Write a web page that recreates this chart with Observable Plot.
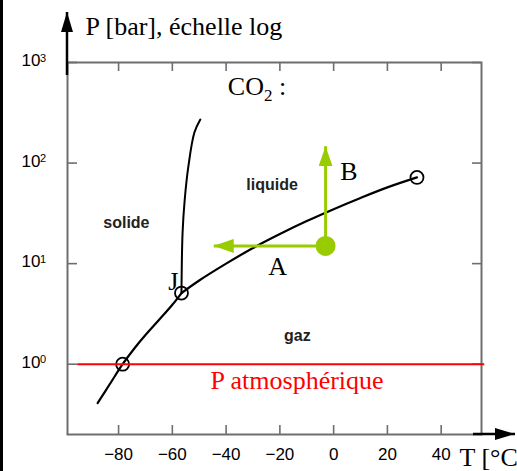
<!DOCTYPE html>
<html><head><meta charset="utf-8">
<script src="https://cdn.jsdelivr.net/npm/d3@7"></script>
<script src="https://cdn.jsdelivr.net/npm/@observablehq/plot@0.6"></script>
<style>
html,body{margin:0;padding:0;background:#fff;overflow:hidden;}
#edge{position:absolute;left:0;top:0;width:3px;height:471px;background:#000;}
#chart{position:absolute;left:0;top:0;}
</style>
</head><body><div id="chart"></div><div id="edge"></div>
<script>
// ---- data ----
const xTicks = [-80, -60, -40, -20, 0, 20, 40];
const yTicks = [1, 10, 100, 1000];
const yExponents = ["0", "1", "2", "3"];

// sublimation curve (solide / gaz)
const sublimationT = [-87.8, -83, -78.5, -74, -70, -65, -60, -56.6];
const sublimationP = [0.41, 0.65, 1, 1.45, 1.95, 2.75, 3.9, 5.1];
// melting curve (solide / liquide)
const meltingT = [-56.6, -56.2, -55.4, -54.05, -51.8, -49.6];
const meltingP = [5.1, 20.2, 43.2, 92, 201, 271];
// vaporisation curve (liquide / gaz)
const vaporT = [-56.6, -50, -40, -30, -20, -10, 0, 10, 20, 31];
const vaporP = [5.1, 6.8, 10, 14.3, 19.7, 26.5, 34.8, 45, 57.3, 72];
// marked points: sublimation at 1 bar, triple point J, critical point
const markT = [-78.5, -56.6, 31];
const markP = [1, 5.1, 72];

// atmospheric pressure line
const atmP = 1;
const atmT = [-95.2, 56.2];

// green state point and arrows A (cooling) / B (compression)
const stateT = -3;
const stateP = 15;
const arrowA_T = -44.6;
const arrowB_P = 147;

// labels
const phaseNames = ["liquide", "solide", "gaz"];
const phaseT = [-22.9, -77.1, -13.5];
const phaseP = [60.6, 25.3, 1.91];
const serifNames = ["CO₂ :", "A", "B", "J"];
const serifT = [-28.5, -20.8, 5.7, -59.6];
const serifP = [571, 9.33, 82.7, 6.65];
const atmLabel = "P atmosphérique";
const atmLabelT = -13.6;
const atmLabelP = 0.692;
const yTitle = "P [bar], échelle log";
const xTitle = "T [°C]";

// ---- build ----
const W = 517, H = 471, mL = 67, mR = 36, mT = 62, mB = 37;
const innerW = W - mL - mR, innerH = H - mT - mB;
const green = "#99cc00";
const frameGrey = "#6e6e6e";
const serif = "Liberation Serif";

const zip = (a, b) => a.map((v, i) => ({x: v, y: b[i]}));
const sublimation = zip(sublimationT, sublimationP);
const melting = zip(meltingT, meltingP);
const vapor = zip(vaporT, vaporP);
const marks = zip(markT, markP);
const phases = phaseNames.map((n, i) => ({n, x: phaseT[i], y: phaseP[i]}));
const serifs = serifNames.map((n, i) => ({n, x: serifT[i], y: serifP[i]}));
const arrows = [
  {x1: stateT, y1: stateP, x2: arrowA_T, y2: stateP},
  {x1: stateT, y1: stateP, x2: stateT, y2: arrowB_P}
];

const plot = Plot.plot({
  width: W, height: H,
  marginLeft: mL, marginRight: mR, marginTop: mT, marginBottom: mB,
  style: {fontFamily: "Liberation Sans", fontSize: "17px", color: "#000", background: "#fff", overflow: "visible"},
  x: {domain: [-99, 55], axis: null},
  y: {type: "log", domain: [0.2, 1000], axis: null},
  marks: [
    Plot.frame({stroke: frameGrey, strokeWidth: 2}),
    // inward ticks
    Plot.ruleX(xTicks, {x: d => d, insetTop: innerH - 9, stroke: frameGrey, strokeWidth: 1.6}),
    Plot.ruleX(xTicks, {x: d => d, insetBottom: innerH - 9, stroke: frameGrey, strokeWidth: 1.6}),
    Plot.ruleY(yTicks, {y: d => d, insetRight: innerW - 10, stroke: frameGrey, strokeWidth: 1.6}),
    Plot.ruleY(yTicks, {y: d => d, insetLeft: innerW - 9, stroke: frameGrey, strokeWidth: 1.6}),
    // x tick labels
    Plot.axisX(xTicks, {anchor: "bottom", tickSize: 0, tickPadding: 13, label: null, fontSize: 17, style: "letter-spacing:1.5px"}),
    // y tick labels 10^n
    Plot.text(yTicks, {y: d => d, frameAnchor: "left", text: () => "10", textAnchor: "end", dx: -27, dy: -2, fontSize: 17, style: "letter-spacing:1.5px"}),
    Plot.text(yTicks, {y: d => d, frameAnchor: "left", text: (d, i) => yExponents[i], textAnchor: "start", dx: -27.5, dy: -4.5, fontSize: 11}),
    // phase curves
    Plot.line(sublimation, {x: "x", y: "y", stroke: "#000", strokeWidth: 2.2, curve: "catmull-rom"}),
    Plot.line(melting, {x: "x", y: "y", stroke: "#000", strokeWidth: 2, curve: "catmull-rom"}),
    Plot.line(vapor, {x: "x", y: "y", stroke: "#000", strokeWidth: 2.2, curve: "catmull-rom"}),
    Plot.dot(marks, {x: "x", y: "y", r: 6.5, stroke: "#000", strokeWidth: 1.8, fill: "none"}),
    // atmospheric pressure
    Plot.ruleY([atmP], {y: d => d, x1: atmT[0], x2: atmT[1], stroke: "#ff0000", strokeWidth: 2}),
    // green arrows & state point
    Plot.link(arrows, {x1: "x1", y1: "y1", x2: "x2", y2: "y2", stroke: green, strokeWidth: 3}),
    Plot.dot([{x: stateT, y: stateP}], {x: "x", y: "y", r: 10, fill: green}),
    // labels
    Plot.text(phases, {x: "x", y: "y", text: "n", fontSize: 16, fontWeight: "bold", fill: "#222", style: "letter-spacing:1px"}),
    Plot.text(serifs, {x: "x", y: "y", text: "n", fontSize: 26, fontFamily: serif, fill: "#000"}),
    Plot.text([atmLabel], {x: () => atmLabelT, y: () => atmLabelP, text: d => d, fontSize: 26, fontFamily: serif, fill: "#ff0000"}),
    Plot.text([yTitle], {frameAnchor: "top-left", text: d => d, textAnchor: "start", lineAnchor: "bottom", dx: 18, dy: -28, fontSize: 26, fontFamily: serif, fill: "#000"}),
    Plot.text([xTitle], {frameAnchor: "bottom-right", text: d => d, textAnchor: "start", lineAnchor: "bottom", dx: -22, dy: 31, fontSize: 26, fontFamily: serif, fill: "#000"})
  ]
});

document.getElementById("chart").appendChild(plot);

// ---- post-processing: arrowheads, subscript ----
const svg = d3.select(plot);
const defs = svg.insert("defs", ":first-child");
function addMarker(id, color, len, wid) {
  defs.append("marker").attr("id", id)
    .attr("viewBox", `0 0 ${len} ${wid}`).attr("refX", len).attr("refY", wid / 2)
    .attr("markerWidth", len).attr("markerHeight", wid)
    .attr("markerUnits", "userSpaceOnUse").attr("orient", "auto")
    .append("path").attr("d", `M0,0L${len},${wid / 2}L0,${wid}Z`).attr("fill", color);
}
addMarker("greenHead", green, 20, 14);
addMarker("blackHead", "#000", 20, 12);
svg.selectAll('g[aria-label="link"] path').attr("marker-end", "url(#greenHead)");

// axis arrows (decoration outside the frame)
svg.append("line").attr("x1", mL).attr("y1", mT + 13).attr("x2", mL).attr("y2", 12)
  .attr("stroke", "#000").attr("stroke-width", 2.5).attr("marker-end", "url(#blackHead)");
svg.append("line").attr("x1", W - mR - 8).attr("y1", H - mB).attr("x2", W - 2).attr("y2", H - mB)
  .attr("stroke", "#000").attr("stroke-width", 2.5).attr("marker-end", "url(#blackHead)");

// CO2 subscript
svg.selectAll("text").filter(function () { return this.textContent === "CO₂ :"; }).each(function () {
  const t = d3.select(this);
  t.text(null);
  t.append("tspan").text("CO");
  t.append("tspan").attr("dy", 6).attr("font-size", 17).text("2");
  t.append("tspan").attr("dy", -6).text(" :");
});
</script>
</body></html>
